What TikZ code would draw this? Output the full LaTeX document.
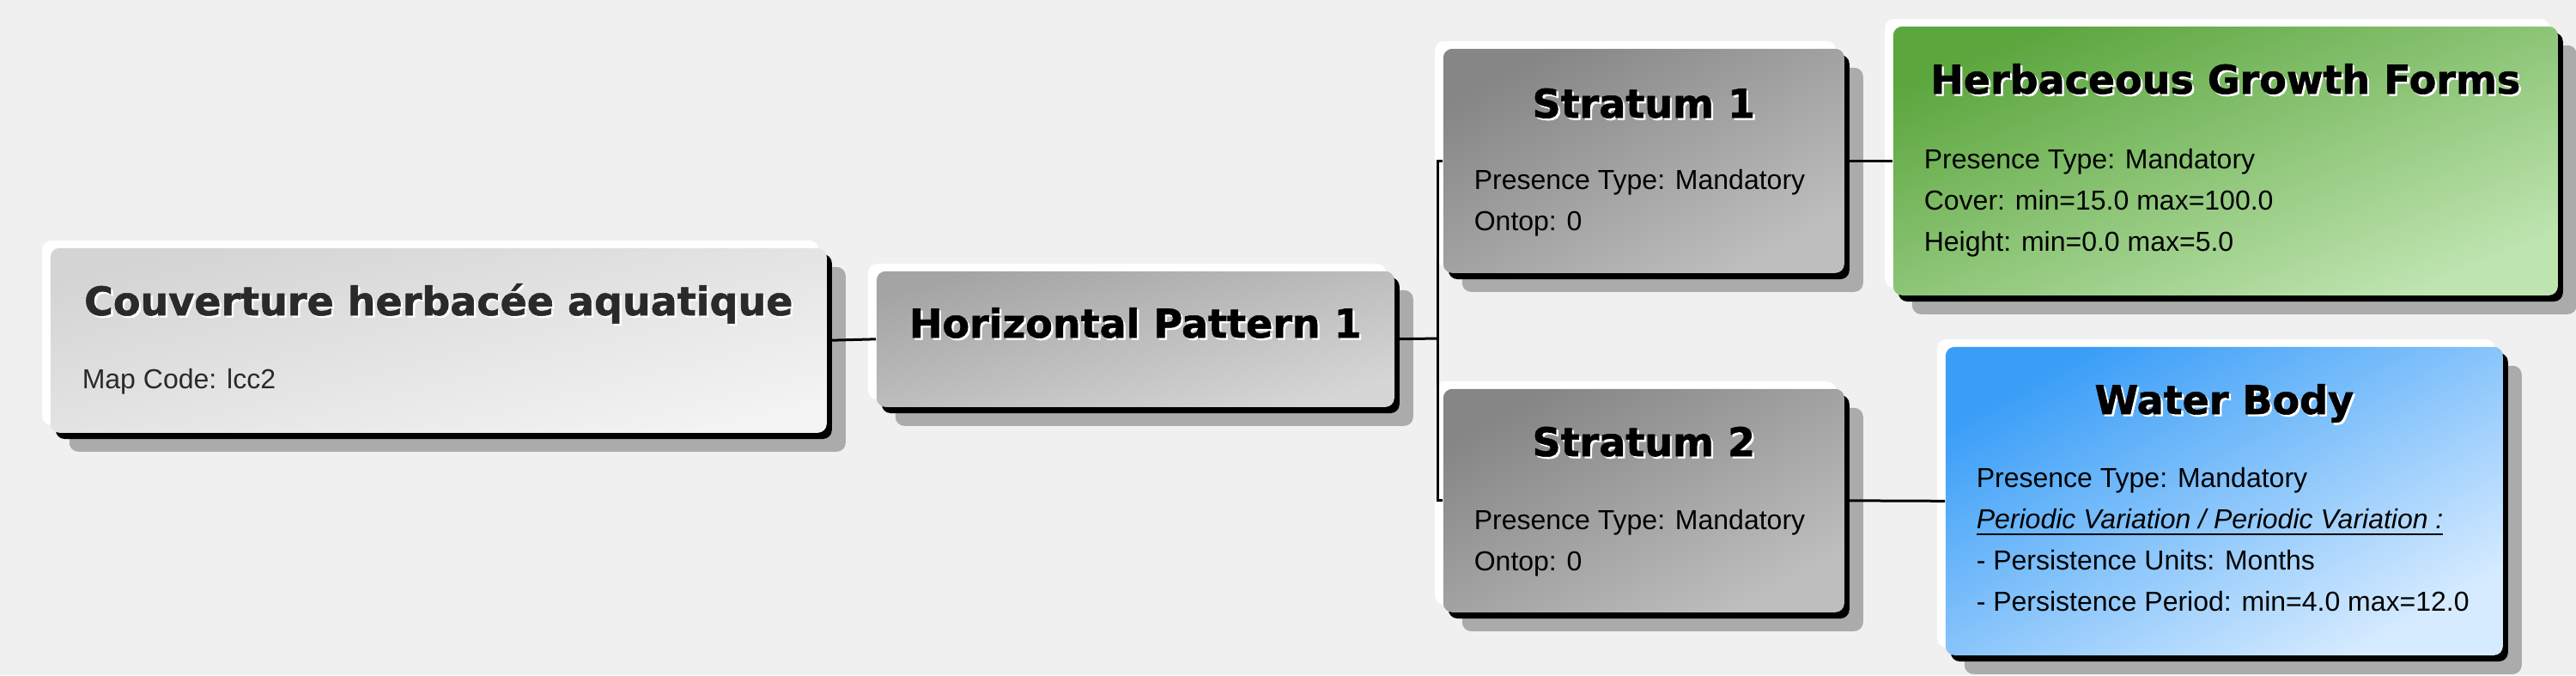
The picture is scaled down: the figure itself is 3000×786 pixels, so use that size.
\documentclass[tikz,border=0pt]{standalone}
\usepackage{fontspec}
\setmainfont{Liberation Sans}
\newfontfamily\headfont{DejaVu Sans}[BoldFeatures={FakeBold=1.2}]
\usepackage{tikz}
\usetikzlibrary{positioning}

\definecolor{canvas}{HTML}{F0F0F0}
\definecolor{cardshadow}{HTML}{ABABAB}
\definecolor{coverA}{HTML}{D4D4D4}
\definecolor{coverB}{HTML}{F3F3F3}
\definecolor{patternA}{HTML}{A4A4A4}
\definecolor{patternB}{HTML}{D6D6D6}
\definecolor{stratumA}{HTML}{868686}
\definecolor{stratumB}{HTML}{BEBEBE}
\definecolor{herbA}{HTML}{5CA63E}
\definecolor{herbB}{HTML}{BEE4B0}
\definecolor{waterA}{HTML}{3A9EF7}
\definecolor{waterB}{HTML}{D6EBFF}
\definecolor{darktext}{HTML}{2A2A2A}

\newcommand{\embossed}[1]{\makebox[0pt][l]{\kern0.6pt\raisebox{-0.6pt}{\color{white}#1}}#1}

\begin{document}
\begin{tikzpicture}[
    x=0.25pt, y=-0.25pt,
    card/.style={
        rectangle, rounded corners=2.6pt, anchor=north west, inner sep=0pt,
        preaction={fill=cardshadow, transform canvas={shift={(5.5pt,-5.5pt)}}},
        preaction={fill=black, transform canvas={shift={(1.5pt,-1.8pt)}}},
        preaction={fill=white, transform canvas={shift={(-2.4pt,2.2pt)}}}},
    cardtitle/.style={anchor=base, inner sep=0pt, font=\headfont\bfseries\fontsize{11.5}{14}\selectfont},
    cardtext/.style={anchor=north west, inner sep=0pt, align=left, font=\fontsize{8}{12}\selectfont},
    link/.style={draw=black, line width=0.75pt}]

\fill[canvas] (0,0) rectangle (3000,786);
\useasboundingbox (0,0) rectangle (3000,786);

% boxes
\node[card, top color=coverA, bottom color=coverB, shading angle=14, minimum width=226pt, minimum height=53.75pt] (cover) at (58,288) {};
\node[card, top color=patternA, bottom color=patternB, shading angle=15, minimum width=150.75pt, minimum height=39.5pt] (pattern) at (1020,315) {};
\node[card, top color=stratumA, bottom color=stratumB, shading angle=29, minimum width=116.75pt, minimum height=65.25pt] (stratum1) at (1680,56) {};
\node[card, top color=stratumA, bottom color=stratumB, shading angle=29, minimum width=116.75pt, minimum height=65pt] (stratum2) at (1680,452) {};
\node[card, top color=herbA, bottom color=herbB, shading angle=22, minimum width=193.5pt, minimum height=78.25pt] (herb) at (2204,30) {};
\node[card, top color=waterA, bottom color=waterB, shading angle=29, minimum width=162.25pt, minimum height=89.75pt] (water) at (2265,403) {};

% titles
\node[cardtitle, text=darktext] (coverT) at ([yshift=-19.75pt]cover.north) {\embossed{Couverture herbacée aquatique}};
\node[cardtitle] (patternT) at ([yshift=-19.5pt]pattern.north) {\embossed{Horizontal Pattern 1}};
\node[cardtitle] (stratum1T) at ([yshift=-20.25pt]stratum1.north) {\embossed{Stratum 1}};
\node[cardtitle] (stratum2T) at ([yshift=-19.75pt]stratum2.north) {\embossed{Stratum 2}};
\node[cardtitle] (herbT) at ([yshift=-19.75pt]herb.north) {\embossed{Herbaceous Growth Forms}};
\node[cardtitle] (waterT) at ([yshift=-19.75pt]water.north) {\embossed{Water Body}};

% attributes
\node[cardtext, text=darktext] (coverA) at ([xshift=9.25pt, yshift=-35.2pt]cover.north west) {Map Code: lcc2};
\node[cardtext] (stratum1A) at ([xshift=9pt, yshift=-35pt]stratum1.north west) {Presence Type: Mandatory\\Ontop: 0};
\node[cardtext] (stratum2A) at ([xshift=9pt, yshift=-35pt]stratum2.north west) {Presence Type: Mandatory\\Ontop: 0};
\node[cardtext] (herbA) at ([xshift=9pt, yshift=-35.7pt]herb.north west) {Presence Type: Mandatory\\Cover: min=15.0 max=100.0\\Height: min=0.0 max=5.0};
\node[cardtext] (waterA) at ([xshift=9pt, yshift=-35.2pt]water.north west) {Presence Type: Mandatory\\\underline{\textit{Periodic Variation / Periodic Variation :}}\\- Persistence Units: Months\\- Persistence Period: min=4.0 max=12.0};

% connectors
\coordinate (fork) at (1674,394);
\draw[link] (cover.east) -- (pattern.west);
\draw[link] (pattern.east) -- (fork);
\draw[link] (stratum1.west) -| (fork) |- (stratum2.west);
\draw[link] (stratum1.east) -- (herb.west);
\draw[link] (stratum2.east) -- (water.west);

\end{tikzpicture}
\end{document}
